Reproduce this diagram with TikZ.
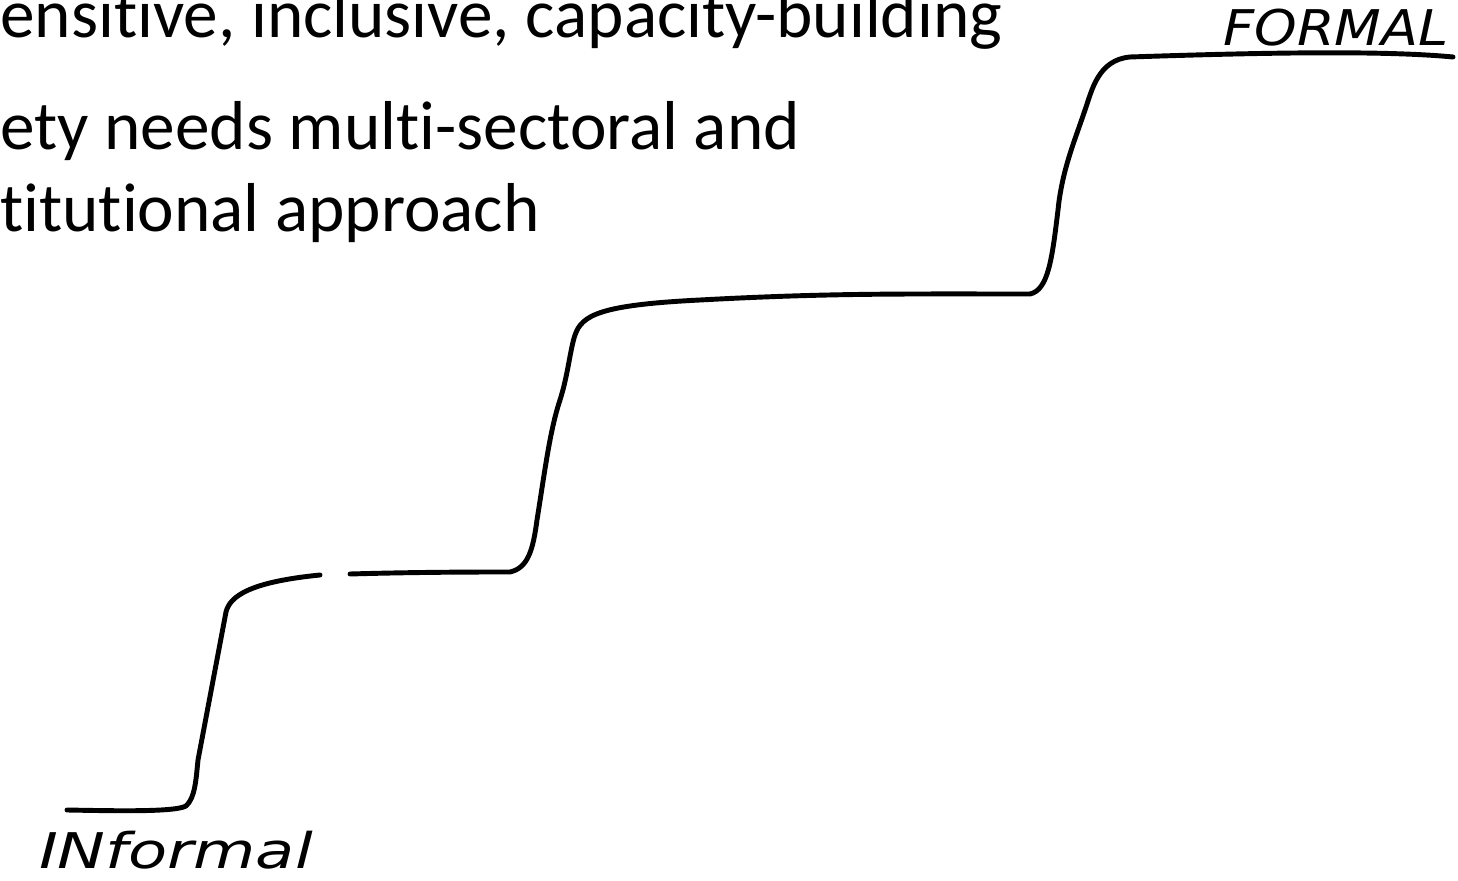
\documentclass[tikz,border=0pt]{standalone}
\usepackage{fontspec}
\setmainfont{Carlito}[Ligatures=NoCommon]
\newfontfamily\handfont{DejaVu Sans}
\usepackage{tikz}
\usetikzlibrary{positioning}
\tikzset{
    bodytext/.style={anchor=base west, inner sep=0pt, font=\fontsize{39.4}{48}\selectfont},
    handlabel/.style={inner sep=0pt, font=\handfont\itshape\fontsize{28}{32}\selectfont},
    stair/.style={line width=2.8pt, line cap=round, line join=round}
}

\begin{document}
\begin{tikzpicture}[x=0.02cm, y=-0.02cm]
        \useasboundingbox (0,0) rectangle (1458,881);

        % Slide text, cut at the left edge
        \node[bodytext] (line1) at (0,38) {ensitive, inclusive, capacity-building};
        \node[bodytext] (line2) at (0,150) {ety needs multi-sectoral and};
        \node[bodytext] (line3) at (0,232) {titutional approach};

        % Hand written ends of the scale
        \node[handlabel, xscale=1.1] (formal) at (1336,28) {FORMAL};
        \node[handlabel, xscale=1.3] (informal) at (176,850) {INformal};

        % Staircase, lower part (broken at the first landing)
        \draw[stair] (67,810) .. controls (120,811) and (175,812) .. (186,806)
            .. controls (195,798) and (196,780) .. (198,760)
            -- (226,612) .. controls (230,596) and (250,582) .. (320,575);
        % Staircase, upper part
        \draw[stair] (350,574) .. controls (420,572) and (480,572) .. (510,572)
            .. controls (528,568) and (533,550) .. (537,520)
            .. controls (545,470) and (550,430) .. (560,400)
            .. controls (568,375) and (570,350) .. (575,335)
            .. controls (582,315) and (600,305) .. (700,300)
            .. controls (830,293) and (900,294) .. (1030,294)
            .. controls (1048,290) and (1052,260) .. (1058,210)
            .. controls (1062,170) and (1075,140) .. (1085,110)
            .. controls (1092,90) and (1098,60) .. (1130,57)
            .. controls (1250,53) and (1380,50) .. (1453,57);

    \end{tikzpicture}
\end{document}
